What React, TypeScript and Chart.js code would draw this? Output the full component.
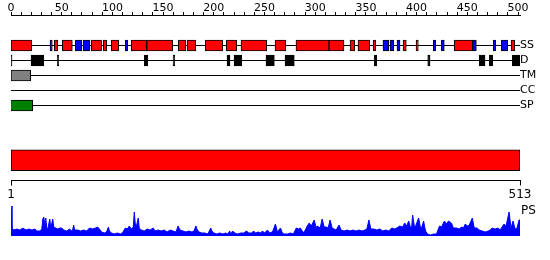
import React, { useEffect, useRef } from "react";
import { Chart, registerables } from "chart.js";
Chart.register(...registerables);

Chart.defaults.font.family = "DejaVu Sans";
Chart.defaults.color = "#000";

const PROT_LEN = 513;
const trackNames = ["SS", "D", "TM", "CC", "SP"];
const topTickStep = 10;
const topLabelStep = 50;
const topAxisMax = 500;

// Secondary structure: helices (red) and strands (blue), residue ranges
const helices: [number, number][] = [
  [0, 21], [43.6, 47.1], [51.7, 61.8], [80.9, 91.3], [93, 96.5], [101.1, 108.5],
  [121.2, 136.8], [136.8, 163], [168.6, 176.1], [177.4, 186.2], [195.8, 213.4],
  [217, 227.5], [231.8, 257.7], [266.1, 276.9], [287.2, 320.5], [320.5, 335.6],
  [341.7, 346.4], [349.7, 361.5], [364.9, 367.6], [395.1, 398.4], [408.2, 410.5],
  [446.8, 465.3], [504, 507.7],
];
const strands: [number, number][] = [
  [39.3, 41.6], [64.8, 71.3], [72.6, 79.6], [115.2, 117.6], [374.9, 380.7],
  [382, 385.7], [389, 392.1], [425.6, 428], [433.7, 436.7], [465.3, 469],
  [486.1, 488.5], [494.2, 500.6],
];
const disorder: [number, number][] = [
  [0, 1], [20.2, 33], [46.7, 48.1], [134.4, 137.8], [163.3, 165], [217.7, 220.7],
  [224.8, 232.5], [257, 265.4], [276.2, 285.5], [366.2, 368.6], [420, 422.3],
  [472, 477.7], [482.1, 485.5], [505.3, 513],
];
const transmem: [number, number][] = [[0, 19.8]];
const coiledCoil: [number, number][] = [];
const signalPep: [number, number][] = [[-0.5, 21.9]];

const domainRange: [number, number] = [1, 513];
const bottomTicks = [1, 513];

// PS profile: residue positions and values
const psPos = [
  1, 2, 4, 7, 10, 13, 16, 19, 22, 25, 27, 30, 32, 33, 34, 35, 36, 37, 38, 40, 41, 43,
  44, 46, 48, 50, 52, 54, 57, 60, 62, 63, 64, 65, 68, 71, 74, 77, 80, 83, 86, 88, 90,
  92, 95, 97, 99, 100, 102, 105, 108, 111, 113, 116, 118, 120, 122, 124, 125, 126, 127,
  129, 130, 132, 135, 138, 141, 144, 146, 149, 152, 155, 158, 161, 164, 167, 169, 171,
  174, 177, 180, 183, 185, 187, 188, 190, 193, 196, 199, 202, 203, 205, 208, 211, 214,
  217, 219, 221, 222, 224, 226, 229, 232, 235, 238, 240, 243, 245, 247, 250, 252, 254,
  256, 259, 261, 264, 267, 269, 272, 274, 276, 279, 282, 285, 288, 290, 292, 294, 295,
  297, 299, 301, 303, 306, 308, 309, 312, 314, 316, 318, 320, 322, 324, 326, 328, 331,
  333, 336, 339, 342, 345, 348, 351, 354, 357, 359, 361, 363, 366, 369, 372, 375, 378,
  381, 384, 387, 389, 392, 395, 397, 399, 401, 403, 404, 405, 407, 408, 411, 413, 414,
  416, 418, 420, 423, 426, 429, 432, 434, 437, 439, 441, 444, 446, 449, 452, 454, 456,
  458, 460, 462, 465, 467, 470, 472, 475, 478, 481, 483, 485, 488, 491, 493, 495, 497,
  499, 502, 504, 506, 508, 510, 512, 513,
];
const psVal = [
  30, 8, 6, 7, 6, 8, 6, 7, 6, 7, 5, 5, 7, 17, 19, 10, 18, 8, 7, 17, 8, 17,
  9, 8, 7, 8, 8, 6, 5, 7, 5, 6, 11, 6, 6, 5, 6, 5, 8, 7, 8, 9, 7,
  4, 3, 4, 9, 5, 3, 2, 3, 2, 3, 8, 7, 10, 7, 9, 24, 12, 9,
  18, 8, 6, 5, 7, 6, 8, 5, 6, 5, 6, 4, 6, 5, 4, 10, 6,
  5, 4, 5, 4, 5, 10, 7, 4, 3, 3, 2, 8, 5, 3, 2, 3, 2,
  3, 2, 5, 2, 5, 3, 2, 3, 3, 5, 3, 3, 5, 3, 4, 3, 5,
  3, 6, 3, 4, 12, 4, 8, 3, 2, 2, 3, 2, 8, 7, 8, 5, 3,
  6, 10, 13, 10, 16, 8, 10, 8, 17, 9, 9, 8, 16, 8, 7, 6, 11,
  6, 5, 6, 5, 6, 5, 6, 5, 6, 7, 16, 7, 7, 6, 7, 5, 6,
  5, 8, 7, 8, 10, 9, 13, 10, 15, 8, 8, 21, 8, 10, 18, 8, 8,
  15, 5, 2, 1, 2, 2, 10, 9, 15, 12, 15, 13, 8, 8, 7, 9, 8,
  12, 10, 11, 18, 8, 8, 6, 5, 4, 5, 6, 8, 7, 8, 6, 9, 12,
  10, 24, 8, 15, 7, 8, 16, 16,
];
const psLabel = "PS";

const LEFT = 11;
const RIGHT_AXIS_W = 30;

function ChartCanvas({ top, height, build }: { top: number; height: number; build: () => any }) {
  const ref = useRef<HTMLCanvasElement | null>(null);
  useEffect(() => {
    if (!ref.current) return;
    const chart = new Chart(ref.current, build());
    return () => chart.destroy();
  }, []);
  return (
    <canvas
      ref={ref}
      width={550}
      height={height}
      style={{ position: "absolute", left: 0, top, width: 550, height }}
    />
  );
}

const baseOpts = {
  responsive: false,
  maintainAspectRatio: false,
  animation: false,
  devicePixelRatio: 1,
  plugins: { legend: { display: false }, tooltip: { enabled: false } },
};

const TRACK_PX = 15;
const AXIS_H = 15;
const FIRST_TRACK_OFFSET = 30.5;
const C1_H = 115;
const yMin = -FIRST_TRACK_OFFSET / TRACK_PX;
const yMax = yMin + (C1_H - AXIS_H) / TRACK_PX;

function featureSet(ranges: [number, number][], track: number, color: string) {
  return {
    type: "bar",
    indexAxis: "y",
    data: ranges.map(([s, e]) => ({ x: [s, e], y: track })),
    backgroundColor: color,
    borderColor: "#000",
    borderWidth: 1,
    borderSkipped: false,
    barThickness: 11,
    grouped: false,
    xAxisID: "xr",
    yAxisID: "y",
    order: 0,
  };
}

const noOffset = { offset: false };

function fitSize(prop: "width" | "height", size: number) {
  return (s: any) => {
    s[prop] = size;
    s.paddingTop = 0;
    s.paddingBottom = 0;
    if (prop === "width") {
      s.paddingLeft = 0;
      s.paddingRight = 0;
    }
  };
}

function fixedTicks(values: number[]) {
  return (ax: any) => {
    ax.ticks = values.map((v) => ({ value: v }));
  };
}

function buildTracks() {
  const topTicks: number[] = [];
  for (let v = 0; v <= topAxisMax; v += topTickStep) topTicks.push(v);
  const lines = trackNames.map((_, i) => ({
    type: "line",
    data: [{ x: 0, y: i }, { x: PROT_LEN, y: i }],
    borderColor: "#000",
    borderWidth: 1,
    pointRadius: 0,
    xAxisID: "xr",
    yAxisID: "y",
    order: 5,
  }));
  return {
    type: "line",
    data: {
      datasets: [
        featureSet(helices, 0, "#ff0000"),
        featureSet(strands, 0, "#0000ff"),
        featureSet(disorder, 1, "#000000"),
        featureSet(transmem, 2, "#808080"),
        featureSet(coiledCoil, 3, "#808080"),
        featureSet(signalPep, 4, "#008000"),
        ...lines,
      ],
    },
    options: {
      ...baseOpts,
      layout: { autoPadding: false, padding: { left: LEFT, right: 0, top: 0, bottom: 0 } },
      scales: {
        x: {
          type: "linear",
          position: "top",
          offset: false,
          min: 0,
          max: (topAxisMax * 509) / 507,
          afterBuildTicks: fixedTicks(topTicks),
          afterFit: fitSize("height", AXIS_H),
          ticks: {
            autoSkip: false,
            maxRotation: 0,
            padding: -2,
            font: { size: 11, lineHeight: 1 },
            callback: (v: number) => (v % topLabelStep === 0 ? String(v) : ""),
          },
          grid: { drawOnChartArea: false, tickLength: 3, color: "#000", offset: false },
          border: { color: "#000" },
        },
        xr: { type: "linear", display: false, min: 0, max: PROT_LEN, offset: false, grid: noOffset },
        y: { type: "linear", display: false, reverse: true, min: yMin, max: yMax, offset: false, grid: noOffset },
        yl: {
          type: "linear",
          position: "right",
          reverse: true,
          offset: false,
          min: yMin,
          max: yMax,
          afterBuildTicks: fixedTicks(trackNames.map((_, i) => i)),
          afterFit: fitSize("width", RIGHT_AXIS_W),
          ticks: {
            padding: 0,
            font: { size: 11 },
            callback: (v: number) => trackNames[v] ?? "",
          },
          grid: { display: false, drawTicks: false, offset: false },
          border: { display: false },
        },
      },
    },
  };
}

function buildDomain() {
  return {
    type: "bar",
    data: {
      labels: ["domain"],
      datasets: [
        {
          data: [{ x: domainRange, y: "domain" }],
          backgroundColor: "#ff0000",
          borderColor: "#000",
          borderWidth: 1,
          borderSkipped: false,
          barThickness: 21,
        },
      ],
    },
    options: {
      ...baseOpts,
      indexAxis: "y",
      layout: { autoPadding: false, padding: { left: LEFT, right: RIGHT_AXIS_W, top: 0, bottom: 0 } },
      scales: {
        x: {
          type: "linear",
          position: "bottom",
          offset: false,
          min: 1,
          max: PROT_LEN,
          afterBuildTicks: fixedTicks(bottomTicks),
          afterFit: (s: any) => {
            s.height = 21.5;
          },
          ticks: { autoSkip: false, maxRotation: 0, padding: 2, font: { size: 12 } },
          grid: { drawOnChartArea: false, tickLength: 5, color: "#000", offset: false },
          border: { color: "#000" },
        },
        y: { type: "category", display: false },
      },
    },
  };
}

const PS_MAX = 36;
const PS_LABEL_AT = 25;

function buildPS() {
  return {
    type: "line",
    data: {
      datasets: [
        {
          data: psPos.map((p, i) => ({ x: p, y: psVal[i] })),
          borderColor: "#0000ff",
          backgroundColor: "#0000ff",
          borderWidth: 1,
          pointRadius: 0,
          fill: "origin",
          tension: 0,
        },
      ],
    },
    options: {
      ...baseOpts,
      layout: { autoPadding: false, padding: { left: LEFT, right: 0, top: 0, bottom: 24 } },
      scales: {
        x: { type: "linear", display: false, min: 1, max: PROT_LEN },
        y: { type: "linear", display: false, min: 0, max: PS_MAX },
        yl: {
          type: "linear",
          position: "right",
          min: 0,
          max: PS_MAX,
          afterBuildTicks: fixedTicks([PS_LABEL_AT]),
          afterFit: fitSize("width", RIGHT_AXIS_W),
          ticks: { padding: 1, font: { size: 12 }, callback: () => psLabel },
          grid: { display: false, drawTicks: false },
          border: { display: false },
        },
      },
    },
  };
}

export default function App() {
  return (
    <div style={{ position: "absolute", left: 0, top: 0, width: 550, height: 260, background: "#fff" }}>
      <ChartCanvas top={0} height={C1_H} build={buildTracks} />
      <ChartCanvas top={140} height={62} build={buildDomain} />
      <ChartCanvas top={200} height={60} build={buildPS} />
    </div>
  );
}
